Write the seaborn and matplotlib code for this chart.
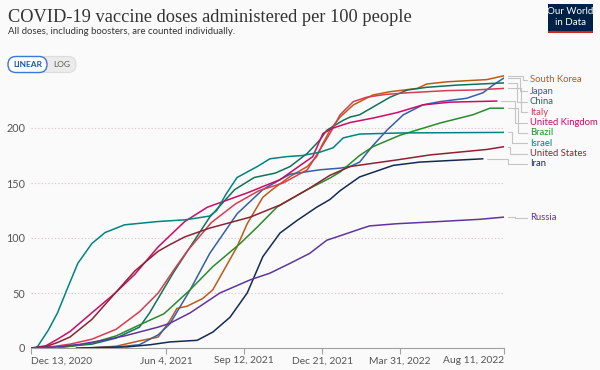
import matplotlib
matplotlib.use("Agg")
import matplotlib.pyplot as plt
import matplotlib.dates as mdates
from matplotlib.patches import FancyBboxPatch, Rectangle
from matplotlib.lines import Line2D
from matplotlib.transforms import IdentityTransform
import seaborn as sns
import pandas as pd

# ---------------- data ----------------
south_korea_dates = ["2021-02-26", "2021-04-01", "2021-05-01", "2021-05-25", "2021-06-09", "2021-06-18",
                     "2021-07-01", "2021-07-21", "2021-08-03", "2021-09-03", "2021-09-16", "2021-10-06",
                     "2021-10-18", "2021-11-10", "2021-12-02", "2021-12-14", "2021-12-22", "2021-12-31",
                     "2022-01-13", "2022-01-30", "2022-02-24", "2022-03-18", "2022-04-22", "2022-05-04",
                     "2022-05-30", "2022-07-20", "2022-08-11"]
south_korea_values = [0, 1.6, 6.5, 10, 25, 36, 38, 45, 53, 92, 113, 137, 144, 156, 165, 174, 186, 198,
                      210, 221, 230, 233, 236, 240, 242, 244, 247.5]

japan_dates = ["2021-02-17", "2021-04-01", "2021-05-01", "2021-05-25", "2021-06-09", "2021-07-05",
               "2021-07-30", "2021-09-03", "2021-10-06", "2021-10-28", "2021-11-10", "2021-12-18",
               "2022-01-13", "2022-01-26", "2022-02-07", "2022-02-24", "2022-03-14", "2022-04-04",
               "2022-04-29", "2022-05-21", "2022-06-24", "2022-07-15", "2022-07-28", "2022-08-11"]
japan_values = [0, 0.8, 3, 12, 22, 53, 86, 122, 144, 153, 158, 162, 163.5, 165, 169, 184, 198, 212,
                221, 224, 227, 232, 239, 245.5]

china_dates = ["2020-12-15", "2021-02-01", "2021-03-01", "2021-04-01", "2021-05-01", "2021-05-14",
               "2021-06-13", "2021-07-05", "2021-07-30", "2021-08-31", "2021-09-25", "2021-10-22",
               "2021-11-10", "2021-12-02", "2021-12-18", "2021-12-27", "2022-01-17", "2022-01-26",
               "2022-02-07", "2022-02-24", "2022-03-18", "2022-04-09", "2022-05-04", "2022-06-12",
               "2022-08-11"]
china_values = [0, 1.7, 3.5, 9, 19, 32, 68, 92, 119, 144, 155, 159, 165, 177, 189, 198, 207, 210,
                212, 219, 228, 234.5, 237, 239, 241]

italy_dates = ["2020-12-27", "2021-01-15", "2021-02-01", "2021-03-01", "2021-04-01", "2021-05-01",
               "2021-05-25", "2021-06-15", "2021-07-01", "2021-08-01", "2021-09-01", "2021-10-01",
               "2021-11-01", "2021-12-02", "2021-12-18", "2021-12-31", "2022-01-13", "2022-01-30",
               "2022-02-16", "2022-03-12", "2022-04-09", "2022-05-30", "2022-07-02", "2022-08-11"]
italy_values = [0, 1.8, 3.5, 8, 17, 33, 50, 72, 88, 114, 131, 143, 150, 162, 180, 195, 212, 224,
                228, 230.5, 232, 234, 234.5, 236]

uk_dates = ["2020-12-13", "2021-01-01", "2021-01-16", "2021-02-01", "2021-03-01", "2021-03-31",
            "2021-04-25", "2021-05-25", "2021-06-28", "2021-07-27", "2021-09-16", "2021-10-28",
            "2021-12-09", "2021-12-22", "2022-01-04", "2022-01-26", "2022-02-24", "2022-03-27",
            "2022-04-29", "2022-06-03", "2022-08-02"]
uk_values = [0, 2, 8, 15, 32, 50, 67, 92, 115, 128, 141, 153, 174, 195, 200, 205, 209, 214,
             221, 223.5, 224.5]

brazil_dates = ["2021-01-17", "2021-02-01", "2021-03-01", "2021-04-01", "2021-05-01", "2021-06-01",
                "2021-06-09", "2021-07-05", "2021-08-03", "2021-09-07", "2021-09-29", "2021-10-24",
                "2021-12-02", "2021-12-31", "2022-01-13", "2022-02-07", "2022-02-24", "2022-03-31",
                "2022-05-21", "2022-07-02", "2022-07-24", "2022-08-11"]
brazil_values = [0, 1.5, 4.5, 11, 21, 31, 36, 53, 74, 95, 110, 128, 144, 154.5, 160, 175, 183,
                 193.5, 204.5, 212, 218, 218]

israel_dates = ["2020-12-19", "2020-12-22", "2021-01-04", "2021-01-16", "2021-01-28", "2021-02-11",
                "2021-03-01", "2021-03-18", "2021-04-12", "2021-05-25", "2021-06-28", "2021-07-17",
                "2021-07-30", "2021-08-08", "2021-08-20", "2021-09-03", "2021-09-29", "2021-10-15",
                "2021-11-06", "2021-11-26", "2021-12-18", "2022-01-04", "2022-01-17", "2022-02-07",
                "2022-04-01", "2022-08-11"]
israel_values = [0, 2, 16, 32, 53, 77, 95, 105, 112, 115, 116.5, 118.5, 120, 125, 140, 155, 165,
                 172, 174, 175, 178, 182, 191, 194.5, 195.5, 196]

us_dates = ["2020-12-14", "2021-01-01", "2021-01-16", "2021-02-01", "2021-03-01", "2021-03-31",
            "2021-04-25", "2021-05-25", "2021-06-09", "2021-06-28", "2021-07-30", "2021-09-20",
            "2021-10-28", "2021-12-02", "2021-12-31", "2022-01-26", "2022-03-27", "2022-05-08",
            "2022-07-20", "2022-08-11"]
us_values = [0, 1.3, 5, 10, 26, 50, 70, 88, 94, 101, 109, 119, 130, 144, 157, 165, 171, 175.5,
             180.5, 183]

iran_dates = ["2021-02-09", "2021-04-15", "2021-05-15", "2021-06-09", "2021-07-14", "2021-08-03",
              "2021-08-25", "2021-09-16", "2021-10-06", "2021-10-28", "2021-11-19", "2021-12-14",
              "2021-12-31", "2022-01-13", "2022-02-07", "2022-03-22", "2022-04-25", "2022-07-15"]
iran_values = [0, 1, 3, 5.5, 7, 14.5, 28, 50, 83, 104.5, 116, 128, 135, 143, 155.5, 166, 169, 172]

russia_dates = ["2020-12-15", "2021-01-15", "2021-02-15", "2021-03-15", "2021-04-12", "2021-05-25",
                "2021-06-09", "2021-07-05", "2021-08-12", "2021-09-20", "2021-10-15", "2021-11-10",
                "2021-12-05", "2021-12-27", "2022-01-13", "2022-02-11", "2022-02-20", "2022-03-27",
                "2022-05-08", "2022-07-11", "2022-08-11"]
russia_values = [0, 1, 3.5, 7, 11, 19, 22.5, 32, 50, 62, 68, 77, 86, 98, 102, 109, 111, 113,
                 114.5, 117, 119]

countries = ["South Korea", "Japan", "China", "Italy", "United Kingdom", "Brazil", "Israel",
             "United States", "Iran", "Russia"]
series = {
    "South Korea": (south_korea_dates, south_korea_values),
    "Japan": (japan_dates, japan_values),
    "China": (china_dates, china_values),
    "Italy": (italy_dates, italy_values),
    "United Kingdom": (uk_dates, uk_values),
    "Brazil": (brazil_dates, brazil_values),
    "Israel": (israel_dates, israel_values),
    "United States": (us_dates, us_values),
    "Iran": (iran_dates, iran_values),
    "Russia": (russia_dates, russia_values),
}

tick_dates = ["2020-12-13", "2021-06-04", "2021-09-12", "2021-12-21", "2022-03-31", "2022-08-11"]
tick_labels = ["Dec 13, 2020", "Jun 4, 2021", "Sep 12, 2021", "Dec 21, 2021", "Mar 31, 2022",
               "Aug 11, 2022"]
y_ticks = [0, 50, 100, 150, 200]

title = "COVID-19 vaccine doses administered per 100 people"
subtitle = "All doses, including boosters, are counted individually."

# ---------------- style ----------------
colors = {
    "South Korea": "#c05917",
    "Japan": "#3360a9",
    "China": "#0f7358",
    "Italy": "#d73c50",
    "United Kingdom": "#cf0a66",
    "Brazil": "#2a8a2c",
    "Israel": "#00847e",
    "United States": "#8a2433",
    "Iran": "#152a52",
    "Russia": "#6035a0",
}
label_y = {  # pixel rows (from top) of the right-hand labels
    "South Korea": 80, "Japan": 91, "China": 101.7, "Italy": 112.2, "United Kingdom": 122.6,
    "Brazil": 132.8, "Israel": 143.2, "United States": 153.5, "Iran": 163.8, "Russia": 218,
}
elbow_x = {
    "South Korea": 523, "Japan": 520, "China": 517, "Italy": 521, "United Kingdom": 515,
    "Brazil": 518, "Israel": 512, "United States": 510, "Iran": 508, "Russia": 515,
}

BG = "#fafafa"
W, H = 600, 370

rows = []
for c in countries:
    d, v = series[c]
    for di, vi in zip(d, v):
        rows.append({"country": c, "date": pd.Timestamp(di), "value": vi})
df = pd.DataFrame(rows)

sns.set_theme(style="white")
plt.rcParams["font.family"] = ["Lato", "DejaVu Sans"]

fig = plt.figure(figsize=(W / 100, H / 100), dpi=100, facecolor=BG)
ax = fig.add_axes([31 / W, 22 / H, 473 / W, 275 / H])
ax.set_facecolor(BG)

sns.lineplot(data=df, x="date", y="value", hue="country", hue_order=countries, palette=colors,
             linewidth=1.1, legend=False, estimator=None, ax=ax)

ax.set_xlim(pd.Timestamp(tick_dates[0]), pd.Timestamp(tick_dates[-1]))
ax.set_ylim(0, 250)
ax.set_xlabel("")
ax.set_ylabel("")
ax.set_yticks(y_ticks)
ax.set_yticklabels([str(t) for t in y_ticks])
ax.set_xticks([pd.Timestamp(t) for t in tick_dates])
ax.set_xticklabels(tick_labels)
for i, lab in enumerate(ax.get_xticklabels()):
    if i == 0:
        lab.set_ha("left")
    elif i == len(tick_labels) - 1:
        lab.set_ha("right")
ax.tick_params(axis="x", length=4, width=0.8, color="#a0a0a0", pad=2, labelsize=7.4,
               labelcolor="#555555", direction="out", bottom=True)
ax.tick_params(axis="y", length=0, pad=4, labelsize=7.8, labelcolor="#555555")
for s in ["left", "top", "right"]:
    ax.spines[s].set_visible(False)
ax.spines["bottom"].set_color("#a0a0a0")
ax.spines["bottom"].set_linewidth(0.8)
ax.grid(axis="y", color="#d8cccc", linestyle=(0, (1.2, 1.8)), linewidth=0.8)
ax.grid(axis="x", visible=False)
ax.set_axisbelow(True)

# ---------------- header ----------------
fig.text(8 / W, 1 - 22 / H, title, fontsize=13.2, family=["Liberation Serif", "DejaVu Serif"],
         color="#333333", va="baseline", ha="left")
fig.text(8 / W, 1 - 34 / H, subtitle, fontsize=6.9, color="#333333", va="baseline", ha="left")

ident = IdentityTransform()
# LINEAR / LOG toggle
fig.add_artist(FancyBboxPatch((8, H - 72.5), 68, 16, boxstyle="round,pad=0,rounding_size=8",
                              transform=ident, facecolor="#ebebeb", edgecolor="#dddddd", lw=0.8))
fig.add_artist(FancyBboxPatch((8, H - 72.5), 39, 16, boxstyle="round,pad=0,rounding_size=8",
                              transform=ident, facecolor="white", edgecolor="#3b78d8", lw=1.0))
fig.text(27.5 / W, 1 - 64.5 / H, "LINEAR", fontsize=6, weight="bold", color="#1d56a6",
         ha="center", va="center")
fig.text(61.5 / W, 1 - 64.5 / H, "LOG", fontsize=6, color="#555555", ha="center", va="center")

# logo
fig.add_artist(Rectangle((548, H - 30.5), 45, 27, transform=ident, facecolor="#002147",
                         edgecolor="none"))
fig.add_artist(Rectangle((548, H - 33), 45, 2.5, transform=ident, facecolor="#ce261e",
                         edgecolor="none"))
fig.text(570.5 / W, 1 - 11.5 / H, "Our World", fontsize=7, color="white", ha="center", va="center")
fig.text(570.5 / W, 1 - 22.5 / H, "in Data", fontsize=7, color="white", ha="center", va="center")

# ---------------- right-hand labels ----------------
fig.canvas.draw()
for c in countries:
    d, v = series[c]
    xe, ye = ax.transData.transform((mdates.date2num(pd.Timestamp(d[-1])), v[-1]))
    yl = H - label_y[c]
    ex = elbow_x[c]
    fig.add_artist(Line2D([xe + 4, ex, ex, 527], [ye, ye, yl, yl], transform=ident,
                          color="#c4c4c4", lw=0.8))
    fig.text(530 / W, yl / H, c, fontsize=6.8, color=colors[c], ha="left", va="center")

fig.savefig("out.png", dpi=100, facecolor=BG)
